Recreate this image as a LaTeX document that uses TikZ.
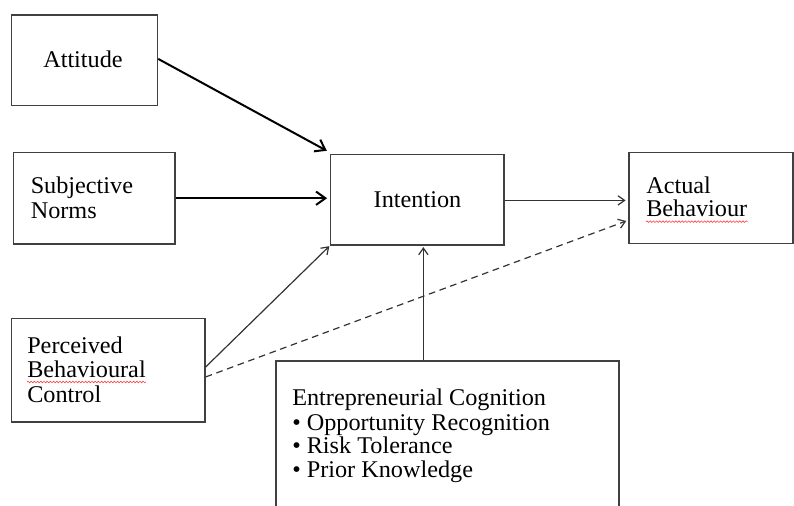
\documentclass[tikz,border=0pt]{standalone}
\usepackage{fontspec}
\setmainfont{Liberation Serif}[FakeStretch=1.01]
\usetikzlibrary{arrows.meta,fit,decorations.pathmorphing}
\definecolor{boxgray}{HTML}{404040}
\definecolor{linegray}{HTML}{333333}
\begin{document}
\begin{tikzpicture}[x=0.75pt,y=-0.75pt,
  box/.style={draw=boxgray,line width=1.1pt,inner sep=0pt},
  txt/.style={anchor=base west,inner sep=0pt,font=\fontsize{18}{22}\selectfont,text=black},
  thickarrow/.style={draw=black,line width=1.5pt,-{Straight Barb[length=7pt,width=10pt,line width=1.5pt]}},
  thinarrow/.style={draw=linegray,line width=0.9pt,-{Straight Barb[length=5pt,width=7pt,line width=0.9pt]}},
  dasharrow/.style={draw=linegray,line width=0.9pt,dash pattern=on 5pt off 3.5pt,-{Straight Barb[length=5pt,width=7pt,line width=0.9pt]}},
  spell/.style={draw=red!75,line width=0.45pt,decorate,decoration={snake,amplitude=0.6pt,segment length=2.4pt}}
]
\useasboundingbox (0,0) rectangle (794,506);
\clip (0,0) rectangle (794,506);

% boxes
\node[box,fit={(11.5,15) (157.5,105.5)}] (att) {};
\node[box,fit={(13.5,152.5) (175,244)}] (sn) {};
\node[box,fit={(11.5,318.5) (205,422)}] (pbc) {};
\node[box,fit={(330.5,154.5) (504,245)}] (int) {};
\node[box,fit={(629,152.5) (793,243.5)}] (ab) {};
\node[box,fit={(276,361) (619,530)}] (ec) {};

% texts
\node[txt] (tatt) at (43,68) {Attitude};
\node[txt] (tsn1) at (30.5,194) {Subjective};
\node[txt] (tsn2) at (30.5,219) {Norms};
\node[txt] (tpbc1) at (27,354) {Perceived};
\node[txt] (tpbc2) at (27,378) {Behavioural};
\node[txt] (tpbc3) at (27,403) {Control};
\node[txt,anchor=base] (tint) at (417.5,208) {Intention};
\node[txt] (tab1) at (646,194) {Actual};
\node[txt] (tab2) at (646,217) {Behaviour};
\node[txt] (tec1) at (292,406) {Entrepreneurial Cognition};
\node[txt] (tec2) at (292,431) {\textbullet\ Opportunity Recognition};
\node[txt] (tec3) at (292,454) {\textbullet\ Risk Tolerance};
\node[txt] (tec4) at (292,478) {\textbullet\ Prior Knowledge};

% spell-check underlines
\draw[spell] ([yshift=-3pt]tpbc2.base west) -- ([yshift=-3pt]tpbc2.base east);
\draw[spell] ([yshift=-3.5pt]tab2.base west) -- ([yshift=-3.5pt]tab2.base east);

% connectors
\coordinate (inttl) at ([shift={(-3,-3)}]int.north west);
\draw[thickarrow] ([yshift=1pt]att.east) -- (inttl);
\draw[thickarrow,shorten >=2pt] (sn.east) -- (sn.east -| int.west);
\draw[thinarrow,shorten >=0.5pt] ([yshift=2.5pt]pbc.east) -- (int.south west);
\coordinate (abin) at ([shift={(-2,23)}]ab.west);
\draw[dasharrow] ([yshift=-5pt]pbc.east) -- (abin);
\draw[thinarrow,shorten >=2pt] ([yshift=-0.5pt]int.east) -- ([yshift=-0.5pt]int.east -| ab.west);
\coordinate (ecin) at ([xshift=4.6pt]int.south);
\draw[thinarrow,shorten >=1pt] (ecin |- ec.north) -- (ecin);
\end{tikzpicture}
\end{document}
